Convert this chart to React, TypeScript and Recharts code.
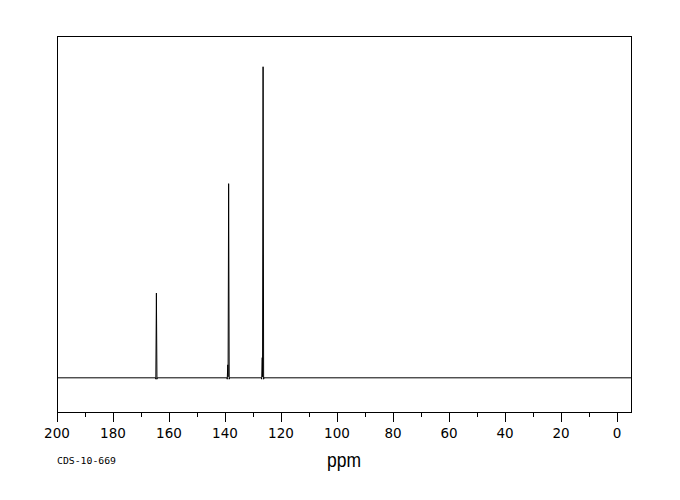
import React from "react";
import { LineChart, Line, XAxis, YAxis, ReferenceArea } from "recharts";

// 13C NMR trace, chemical shift (ppm) against relative intensity
const shift = [
  200, 164.8, 164.7, 164.5, 164.3, 164.2,
  139.3, 139.2, 139.0, 138.9, 138.7, 138.5, 138.4,
  127.0, 126.9, 126.7, 126.6, 126.4, 126.2, 126.1, -5,
];
const intensity = [
  0, 0, -0.4, 24.8, -0.4, 0,
  0, -0.4, 3.8, 0.3, 56.8, -0.4, 0,
  0, -0.4, 5.9, 0.3, 91.0, -0.4, 0, 0,
];

const xTicks = [0, 10, 20, 30, 40, 50, 60, 70, 80, 90, 100, 110, 120, 130, 140, 150, 160, 170, 180, 190, 200];
const labelEvery = 20;
const xDomain = [-5, 200];
const yDomain = [-10, 100];
const sampleCode = "CDS-10-669";
const axisTitle = "ppm";

const data = shift.map((ppm, i) => ({ ppm, value: intensity[i] }));

const PpmTick = ({ x, y, payload }: any) => {
  const major = payload.value % labelEvery === 0;
  return (
    <g>
      <line
        x1={x}
        y1={y}
        x2={x}
        y2={y + (major ? 10 : 5)}
        stroke="#000"
        strokeWidth={1}
        shapeRendering="crispEdges"
      />
      {major && (
        <text
          x={x}
          y={y + 26}
          textAnchor="middle"
          fontFamily="'DejaVu Sans', sans-serif"
          fontSize={13.5}
          fill="#000"
        >
          {payload.value}
        </text>
      )}
    </g>
  );
};

export default function App() {
  return (
    <div style={{ position: "absolute", left: 0, top: 0, width: 680, height: 500, background: "#fff" }}>
      <LineChart
        width={680}
        height={500}
        data={data}
        margin={{ top: 36, right: 49, left: 57, bottom: 58 }}
      >
        <XAxis
          dataKey="ppm"
          type="number"
          domain={xDomain}
          reversed
          allowDataOverflow
          ticks={xTicks}
          interval={0}
          tickSize={0}
          tickMargin={0}
          tickLine={false}
          tick={<PpmTick />}
          height={30}
          axisLine={{ stroke: "#000", shapeRendering: "crispEdges" }}
        />
        <YAxis type="number" domain={yDomain} allowDataOverflow hide />
        <ReferenceArea
          x1={xDomain[1]}
          x2={xDomain[0]}
          y1={yDomain[0]}
          y2={yDomain[1]}
          fill="none"
          fillOpacity={0}
          stroke="#000"
          strokeWidth={1}
          strokeOpacity={1}
          shapeRendering="crispEdges"
          ifOverflow="visible"
        />
        <Line
          type="linear"
          dataKey="value"
          stroke="#000"
          strokeWidth={1}
          dot={false}
          activeDot={false}
          isAnimationActive={false}
        />
      </LineChart>
      <svg width={680} height={500} style={{ position: "absolute", left: 0, top: 0, pointerEvents: "none" }}>
        <text
          x={57}
          y={464}
          fontFamily="'DejaVu Sans Mono', monospace"
          fontSize={9}
          textLength={59}
          lengthAdjust="spacingAndGlyphs"
          fill="#000"
        >
          {sampleCode}
        </text>
        <text
          x={327}
          y={467}
          fontFamily="'Liberation Sans', sans-serif"
          fontSize={21}
          textLength={34}
          lengthAdjust="spacingAndGlyphs"
          fill="#000"
        >
          {axisTitle}
        </text>
      </svg>
    </div>
  );
}
